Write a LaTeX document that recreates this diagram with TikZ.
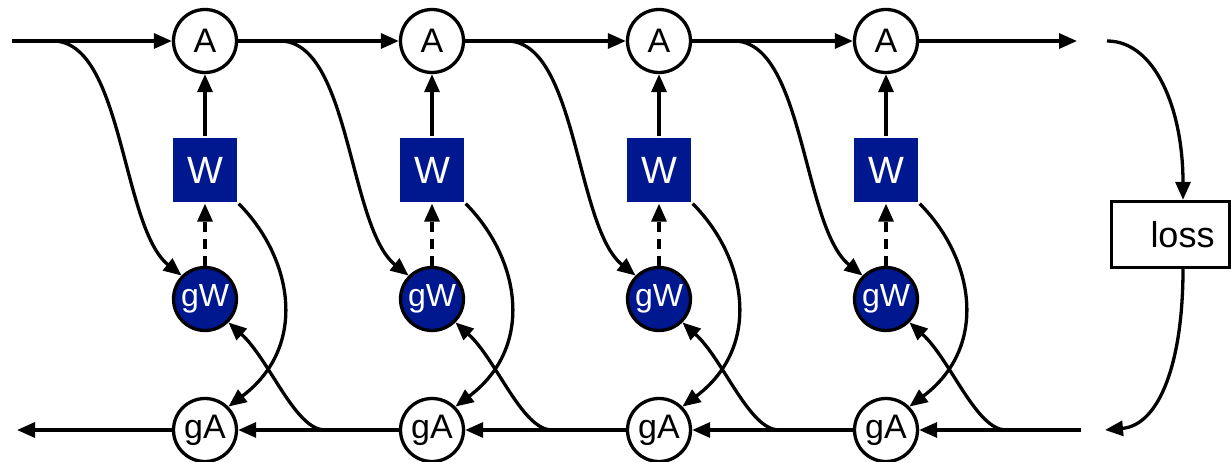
\documentclass[tikz,border=0pt]{standalone}
\usepackage{fontspec}
\setmainfont{Liberation Sans}
\usetikzlibrary{arrows.meta}
\definecolor{navy}{RGB}{0,24,143}
\begin{document}
\begin{tikzpicture}[x=1pt,y=-1pt,
  line width=3.3pt,
  arr/.style={-{Triangle[length=18pt,width=15pt]}},
  dashedarr/.style={arr,dash pattern=on 10pt off 7pt},
  statenode/.style={circle,draw,fill=white,minimum size=63pt,inner sep=0pt,
    font=\fontsize{34}{34}\selectfont},
  gradnode/.style={circle,draw,fill=navy,text=white,minimum size=63pt,inner sep=0pt,
    font=\fontsize{32}{32}\selectfont},
  weightnode/.style={rectangle,fill=navy,text=white,minimum size=64pt,inner sep=0pt,
    font=\fontsize{38}{38}\selectfont},
  lossnode/.style={rectangle,draw,fill=white,minimum width=118pt,minimum height=66pt,
    inner sep=0pt,font=\fontsize{36}{36}\selectfont}]
\useasboundingbox (0,0) rectangle (1231,462);

% one column per time step
\foreach \i/\c in {1/205,2/432,3/659,4/886}{
  \node[statenode]  (A\i)  at (\c,41)  {A};
  \node[weightnode] (W\i)  at (\c,170) {W};
  \node[gradnode]   (gW\i) at (\c,299) {gW};
  \node[statenode]  (gA\i) at (\c,430) {gA};
  \coordinate (tb\i) at (\c-152,41);
  \coordinate (bb\i) at (\c+120,430);
}
\node[lossnode] (loss) at (1170.5,234.5) {\hspace*{24pt}loss};

% loose ends of the forward and backward chains
\coordinate (fin)   at (12,41);
\coordinate (fout)  at (1077,41);
\coordinate (lin)   at (1107,41);
\coordinate (lout)  at (1105,430);
\coordinate (bin)   at (1081,430);
\coordinate (bout)  at (17,430);

% forward chain
\draw[arr] (fin) -- (A1);
\draw[arr] (A1) -- (A2);
\draw[arr] (A2) -- (A3);
\draw[arr] (A3) -- (A4);
\draw[arr] (A4) -- (fout);

% backward chain
\draw[arr] (bin) -- (gA4);
\draw[arr] (gA4) -- (gA3);
\draw[arr] (gA3) -- (gA2);
\draw[arr] (gA2) -- (gA1);
\draw[arr] (gA1) -- (bout);

% per-step connections
\foreach \i in {1,2,3,4}{
  \draw[arr] (W\i) -- (A\i);
  \draw[dashedarr] (gW\i) -- (W\i);
  \draw[arr] (tb\i) .. controls +(70,0) and +(-60,-48) .. (gW\i.135);
  \draw[arr] (W\i.south east) .. controls +(53,53) and +(81,-61) .. (gA\i.45);
  \draw[arr] (bb\i) .. controls +(-30,0) and +(41,37) .. (gW\i.-45);
}

% loss
\draw[arr] (lin) .. controls +(48,0) and +(0,-91) .. ([xshift=12.5pt]loss.north);
\draw[arr] ([xshift=12.5pt]loss.south) .. controls +(0,92) and +(55,-5) .. (lout);
\end{tikzpicture}
\end{document}
